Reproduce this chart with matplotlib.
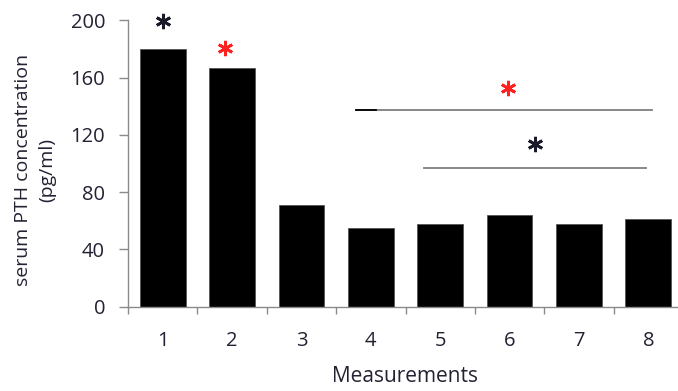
import matplotlib
matplotlib.use('Agg')
import matplotlib.pyplot as plt
import numpy as np

# bar data
measurements = ['1', '2', '3', '4', '5', '6', '7', '8']
pth = [180, 167, 71, 55, 57.5, 64, 57.5, 61.5]

# significance marks (x in category units, y in pg/ml)
star_x = [0.0, 0.9, 4.98, 5.36]
star_y = [199.5, 180.5, 153, 113.5]
star_colors = ['#1a1a2a', '#ff2020', '#ff2020', '#1a1a2a']
bracket_x = [(2.78, 7.05), (3.77, 6.97)]
bracket_y = [137.4, 96.6]

plt.rcParams['font.family'] = ['Open Sans', 'DejaVu Sans']
txt_color = '#222233'
spine_color = '#8a8a8a'

fig = plt.figure(figsize=(6.78, 3.91), dpi=100)
ax = fig.add_axes([0.1888, 0.2156, 0.8186, 0.7325])

x = np.arange(len(measurements))
ax.bar(x, pth, width=0.66, color='black', edgecolor='#555555', linewidth=0.6)

ax.set_xlim(-0.5, len(measurements) - 0.5)
ax.set_ylim(0, 200)
ax.set_yticks(np.arange(0, 201, 40))

# labels at bar centres, tick marks at category boundaries
ax.set_xticks(x)
ax.set_xticklabels(measurements)
ax.set_xticks(np.arange(-0.5, len(measurements) + 0.5, 1), minor=True)
ax.tick_params(axis='x', which='major', length=0, pad=17.5, labelsize=14.5, labelcolor=txt_color)
ax.tick_params(axis='x', which='minor', length=5, width=1, color=spine_color, direction='out')
ax.tick_params(axis='y', length=6.5, width=1, color=spine_color, pad=10, labelsize=14.5, labelcolor=txt_color)

for side in ['top', 'right']:
    ax.spines[side].set_visible(False)
for side in ['left', 'bottom']:
    ax.spines[side].set_color(spine_color)
    ax.spines[side].set_linewidth(1)

# significance brackets
for (x0, x1), yy in zip(bracket_x, bracket_y):
    ax.plot([x0, x1], [yy, yy], color='#7f7f7f', lw=1.3, clip_on=False)
ax.plot([bracket_x[0][0], 3.08], [bracket_y[0]] * 2, color='black', lw=1.3)

for sx, sy, sc in zip(star_x, star_y, star_colors):
    ax.plot(sx, sy, marker=(6, 2, 0), markersize=11, mew=2, color=sc, clip_on=False)

fig.text(405.5 / 678, 1 - 376.7 / 391, 'Measurements', ha='center', va='center',
         fontsize=15, color=txt_color)
fig.text(35 / 678, 1 - 170 / 391, 'serum PTH concentration\n(pg/ml)', rotation=90,
         ha='center', va='center', multialignment='center', fontsize=14,
         linespacing=1.45, color=txt_color)

fig.savefig('out.png', dpi=100)
